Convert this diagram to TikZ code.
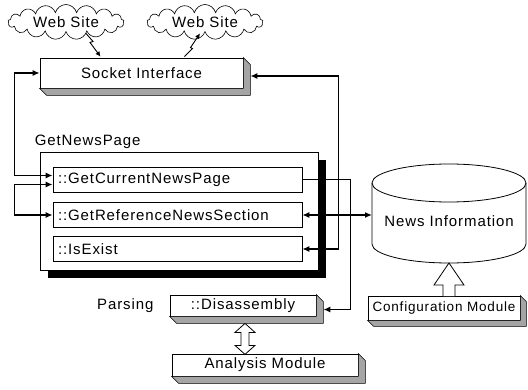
\documentclass[tikz,border=0pt]{standalone}
\usepackage{fontspec}
\setmainfont{Liberation Sans}[LetterSpace=6.0]
\usepackage{tikz}
\usetikzlibrary{shapes.symbols, arrows.meta, positioning, calc, shadows}
\definecolor{FaceGray}{RGB}{165,165,165}

% 立体框的右侧面和底面
\newcommand{\slabface}[2]{%
  \fill[FaceGray, draw=black, line width=0.6pt] (#1.north east) -- ++(#2,-#2)
    -- ($(#1.south east)+(#2,-#2)$) -- ($(#1.south west)+(#2,-#2)$)
    -- (#1.south west) -- (#1.south east) -- cycle;
}

\tikzset{
  link/.style={line width=1.3pt, -{Latex[length=7pt,width=6pt]}},
  dlink/.style={line width=1.3pt, {Latex[length=7pt,width=6pt]}-{Latex[length=7pt,width=6pt]}},
  slab/.style={draw, line width=0.8pt, fill=white, inner sep=0pt},
  method/.style={draw, line width=0.8pt, fill=white, inner xsep=5pt, inner ysep=0pt,
    text width=239pt, minimum height=25pt, align=left},
  site/.style={cloud, cloud puffs=17, aspect=4.2, draw, line width=0.6pt, inner sep=0pt,
    minimum width=116pt, minimum height=28pt},
  bolt/.style={line width=0.9pt, -{Latex[length=5pt,width=5pt]}},
  hollow/.style={draw, line width=0.8pt, fill=white}
}

\begin{document}
\begin{tikzpicture}[x=1pt, y=1pt, font=\fontsize{15}{18}\selectfont]
    \useasboundingbox (0,0) rectangle (528,389);

    % 网站
    \node[site] (webL) at (66,367) {Web Site};
    \node[site] (webR) at (205,367) {Web Site};

    % Socket 接口
    \node[slab, minimum width=203pt, minimum height=30pt] (sock) at (141.5,316) {Socket Interface};
    \slabface{sock}{7}

    % 闪电
    \draw[bolt] ($(webL.south)+(20,-1)$) -- ++(7,-8) -- ++(-3,-1) -- ($(sock.north)+(-41,1)$);
    \draw[bolt] ($(sock.north)+(43,1)$) -- ++(8,8) -- ++(-2,1) -- ($(webR.south)+(-5,-1)$);

    % GetNewsPage 模块
    \node[draw, line width=0.8pt, fill=white, minimum width=278pt, minimum height=118pt,
        drop shadow={shadow xshift=8pt, shadow yshift=-8pt, fill=black, opacity=1}] (grp) at (179,178) {};
    \node[anchor=base west, inner sep=0pt] (grplabel) at ($(grp.north west)+(-5,6)$) {GetNewsPage};
    \node[method] (cur) at (177.5,209.5) {::GetCurrentNewsPage};
    \node[method] (ref) at (177.5,174) {::GetReferenceNewsSection};
    \node[method] (isex) at (177.5,140) {::IsExist};

    % 新闻信息数据库
    \filldraw[fill=white, line width=0.8pt] (372,206) -- (372,145)
        arc[start angle=180, end angle=360, x radius=77, y radius=19] -- (526,206);
    \draw[line width=0.8pt] (449,206) ellipse [x radius=77, y radius=19];
    \node (db) at (449,168) {News Information};
    \coordinate (dbl) at (372,174);
    \coordinate (dbbot) at (449,126);

    % 配置模块
    \node[slab, minimum width=152pt, minimum height=24pt, font=\fontsize{13.5}{16}\selectfont] (conf) at (444,81) {Configuration Module};
    \slabface{conf}{6}

    % 解析
    \node[slab, minimum width=146pt, minimum height=21pt] (dis) at (243,83.5) {::Disassembly};
    \slabface{dis}{7}
    \node[left=16pt of dis, inner sep=0pt] (parse) {Parsing};
    \node[slab, minimum width=186pt, minimum height=22pt] (ana) at (265,24) {Analysis Module};
    \slabface{ana}{7}

    % 左侧连线
    \draw[dlink] (sock.west) -- ++(-25,0) |- ($(cur.west)+(0,4)$);
    \draw[dlink] ($(cur.west)+(0,-5)$) -- ++(-38,0) |- (ref.west);

    % 右侧连线
    \draw[dlink] ($(sock.east)+(7,-3)$) -| ($(isex.east)+(36,0)$) -- (isex.east);
    \draw[link] (cur.east) -- ++(48,0) |- ($(dis.east)+(7,-4)$);
    \draw[dlink] (ref.east) -- (dbl);

    % 空心箭头
    \draw[hollow] ($(dbbot)+(-6,-33)$) -- ++(0,11) -- ++(-9,0) -- (dbbot) -- ++(15,-22) -- ++(-9,0) -- ++(0,-11);
    \draw[hollow] ($(dis.south)+(2,-7)$) -- ++(10,-9) -- ++(-6,0) -- ++(0,-13) -- ++(6,0) -- ++(-10,-9)
        -- ++(-10,9) -- ++(6,0) -- ++(0,13) -- ++(-6,0) -- cycle;
\end{tikzpicture}
\end{document}
